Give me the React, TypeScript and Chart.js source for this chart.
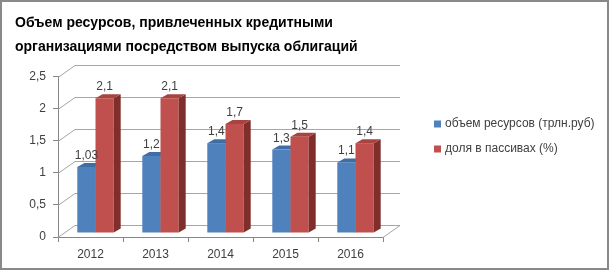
import React, { useEffect, useRef } from 'react';
import { Chart, registerables } from 'chart.js';

Chart.register(...registerables);

const titleLines = ['Объем ресурсов, привлеченных кредитными', 'организациями посредством выпуска облигаций'];
const years = ['2012', '2013', '2014', '2015', '2016'];
const volume = [1.03, 1.2, 1.4, 1.3, 1.1];
const share = [2.1, 2.1, 1.7, 1.5, 1.4];
const seriesNames = ['объем ресурсов (трлн.руб)', 'доля в пассивах (%)'];
const yMin = 0;
const yMax = 2.5;
const yStep = 0.5;

const FONT = "'Liberation Sans', Arial, sans-serif";
const TEXT = '#404040';
const AXIS = '#868686';
const GRID = '#A6A6A6';
const WALL = { x: 17, y: -12 };
const SHIFT = { x: 5, y: -4 };
const DEPTH = { x: 7, y: -4 };
const FRONT = ['#4F81BD', '#C0504D'];
const TOP = ['#3F6DA6', '#A9433F'];
const SIDE = ['#36598A', '#7F2E2C'];

const fmt = (v: number) => String(v).replace('.', ',');

function poly(ctx: CanvasRenderingContext2D, pts: number[][]) {
  ctx.beginPath();
  ctx.moveTo(pts[0][0], pts[0][1]);
  for (let i = 1; i < pts.length; i++) ctx.lineTo(pts[i][0], pts[i][1]);
  ctx.closePath();
  ctx.fill();
}

const threeD = {
  id: 'threeD',
  beforeDraw(chart: any) {
    const ctx = chart.ctx;
    ctx.save();
    ctx.fillStyle = '#fff';
    ctx.fillRect(0, 0, chart.width, chart.height);
    ctx.strokeStyle = '#898989';
    ctx.lineWidth = 2;
    ctx.strokeRect(1, 1, 607, 268);
    ctx.restore();
  },
  beforeDatasetsDraw(chart: any) {
    const { ctx, chartArea: a, scales } = chart;
    const y = scales.y;
    ctx.save();
    ctx.strokeStyle = GRID;
    ctx.lineWidth = 1;
    y.ticks.forEach((t: any) => {
      const py = Math.round(y.getPixelForValue(t.value)) + 0.5;
      ctx.beginPath();
      ctx.moveTo(a.left, py);
      ctx.lineTo(a.left + WALL.x, py + WALL.y);
      ctx.lineTo(a.right + WALL.x, py + WALL.y);
      ctx.stroke();
    });
    const p0 = Math.round(y.getPixelForValue(0)) + 0.5;
    ctx.beginPath();
    ctx.moveTo(a.right, p0);
    ctx.lineTo(a.right + WALL.x, p0 + WALL.y);
    ctx.stroke();
    ctx.restore();
  },
  beforeDatasetDraw() {
    return false;
  },
  afterDatasetsDraw(chart: any) {
    const ctx = chart.ctx;
    ctx.save();
    ctx.translate(SHIFT.x, SHIFT.y);
    chart.data.datasets.forEach((ds: any, di: number) => {
      const meta = chart.getDatasetMeta(di);
      meta.data.forEach((bar: any) => {
        const { x, y, width, base } = bar.getProps(['x', 'y', 'width', 'base'], true);
        const l = x - width / 2;
        const r = x + width / 2;
        ctx.fillStyle = FRONT[di];
        ctx.fillRect(l, y, width, base - y);
        ctx.fillStyle = SIDE[di];
        poly(ctx, [[r, y], [r + DEPTH.x, y + DEPTH.y], [r + DEPTH.x, base + DEPTH.y], [r, base]]);
        ctx.fillStyle = TOP[di];
        poly(ctx, [[l, y], [l + DEPTH.x, y + DEPTH.y], [r + DEPTH.x, y + DEPTH.y], [r, y]]);
      });
    });
    ctx.font = `12px ${FONT}`;
    ctx.fillStyle = TEXT;
    ctx.textAlign = 'center';
    ctx.textBaseline = 'alphabetic';
    chart.data.datasets.forEach((ds: any, di: number) => {
      const meta = chart.getDatasetMeta(di);
      meta.data.forEach((bar: any, i: number) => {
        const { x, y } = bar.getProps(['x', 'y'], true);
        ctx.fillText(fmt(ds.data[i]), x, y - 8);
      });
    });
    ctx.restore();
  },
  afterDraw(chart: any) {
    const ctx = chart.ctx;
    ctx.save();
    ctx.font = `12px ${FONT}`;
    ctx.textAlign = 'left';
    ctx.textBaseline = 'middle';
    chart.data.datasets.forEach((ds: any, i: number) => {
      const cy = 124 + i * 25;
      ctx.fillStyle = FRONT[i];
      ctx.fillRect(434, cy - 3.5, 7, 7);
      ctx.fillStyle = TEXT;
      ctx.fillText(ds.label, 445, cy);
    });
    ctx.restore();
  },
};

export default function App() {
  const ref = useRef<HTMLCanvasElement | null>(null);
  useEffect(() => {
    if (!ref.current) return;
    const chart = new Chart(ref.current, {
      type: 'bar',
      data: {
        labels: years,
        datasets: [
          { label: seriesNames[0], data: volume, backgroundColor: FRONT[0] },
          { label: seriesNames[1], data: share, backgroundColor: FRONT[1] },
        ],
      },
      options: {
        responsive: false,
        animation: false,
        events: [],
        layout: { padding: { left: 15, right: 227, top: 0, bottom: 13 } },
        datasets: { bar: { categoryPercentage: 0.56, barPercentage: 1 } },
        plugins: {
          legend: { display: false },
          tooltip: { enabled: false },
          title: {
            display: true,
            text: titleLines,
            align: 'start',
            color: '#000',
            font: { family: FONT, size: 14, weight: 'bold', lineHeight: 1.7 },
            padding: { top: 11, bottom: 18 },
          },
        },
        scales: {
          x: {
            grid: { drawOnChartArea: false, tickLength: 5, color: AXIS, offset: true },
            border: { color: AXIS },
            ticks: { padding: 5, color: TEXT, font: { family: FONT, size: 12 } },
            afterFit: (s: any) => { s.height = 22; },
          },
          y: {
            min: yMin,
            max: yMax,
            grid: { drawOnChartArea: false, tickLength: 5, color: AXIS },
            border: { color: AXIS },
            ticks: {
              stepSize: yStep,
              padding: 7,
              color: TEXT,
              font: { family: FONT, size: 12 },
              callback: (v: any) => fmt(Number(v)),
            },
            afterFit: (s: any) => { s.width = 43; },
          },
        },
      },
      plugins: [threeD],
    } as any);
    return () => chart.destroy();
  }, []);
  return (
    <div style={{ position: 'fixed', left: 0, top: 0, width: 610, height: 272 }}>
      <canvas ref={ref} width={610} height={272} style={{ display: 'block' }} />
    </div>
  );
}
